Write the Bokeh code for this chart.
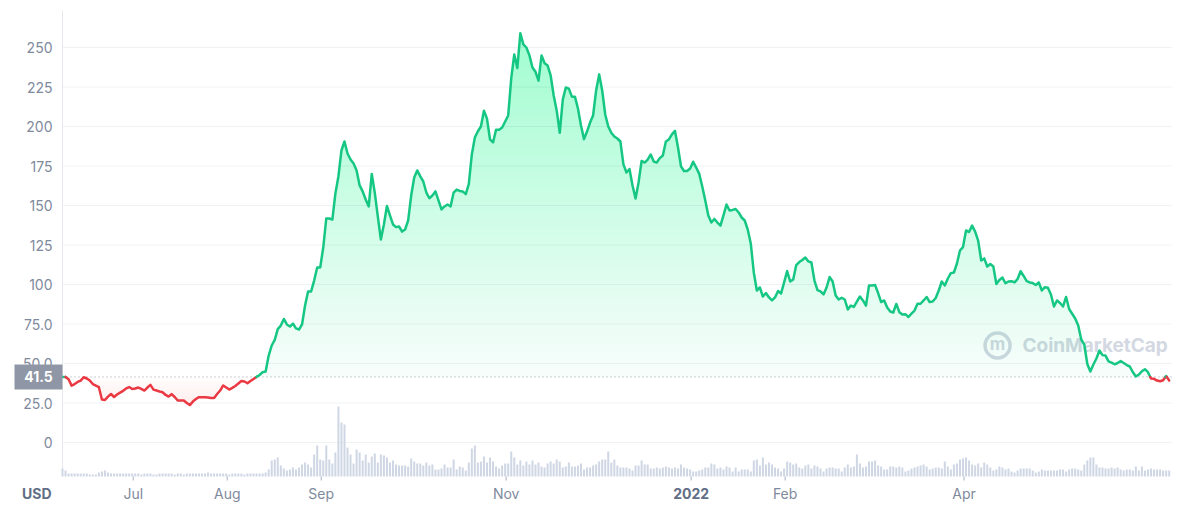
import numpy as np
import pandas as pd
from bokeh.plotting import figure
from bokeh.models import Range1d, ColumnDataSource
from bokeh.core.properties import value
from bokeh.embed import file_html
from bokeh.resources import INLINE

# ---------------- data ----------------
start_date = "2021-06-07 16:00"
baseline = 41.5
currency = "USD"
watermark = "CoinMarketCap"

price = [
    41.5, 41.5, 40.0, 36.0, 37.0, 38.3, 39.2, 41.3, 40.5, 39.2,
    37.0, 36.0, 35.0, 27.2, 26.9, 29.0, 30.7, 28.8, 30.4, 31.6,
    32.7, 34.2, 35.1, 33.9, 34.2, 34.8, 33.9, 32.9, 34.8, 36.5,
    33.5, 32.9, 32.3, 31.8, 30.1, 29.1, 30.6, 28.8, 26.6, 26.6,
    26.6, 25.0, 23.7, 25.9, 27.5, 28.7, 28.7, 28.7, 28.5, 28.2,
    28.2, 30.7, 32.9, 36.1, 34.8, 33.5, 34.6, 35.8, 37.3, 38.9,
    38.6, 37.5, 38.9, 40.2, 41.5, 42.7, 44.5, 44.9, 55.0, 61.4,
    64.9, 71.8, 74.0, 78.2, 74.7, 73.4, 75.3, 72.2, 71.5, 74.7,
    86.7, 95.6, 95.6, 102.5, 110.8, 110.8, 123.4, 141.8, 141.8, 141.1,
    157.6, 168.4, 184.8, 190.5, 182.9, 179.1, 176.6, 172.2, 162.7, 158.9,
    153.8, 149.4, 170.0, 158.0, 143.0, 128.5, 138.0, 149.7, 143.7, 138.0,
    136.3, 136.7, 133.5, 134.8, 140.5, 156.3, 167.7, 172.2, 168.4, 165.2,
    158.2, 154.6, 156.3, 158.9, 153.2, 147.5, 149.4, 150.6, 149.4, 158.2,
    160.1, 159.2, 158.9, 157.2, 163.5, 182.3, 193.0, 197.0, 200.0, 210.0,
    205.0, 191.8, 189.9, 198.0, 198.0, 199.4, 203.2, 207.0, 230.4, 245.6,
    237.0, 259.0, 252.0, 250.0, 245.0, 237.3, 234.6, 229.0, 245.0, 240.0,
    238.6, 232.3, 219.6, 210.0, 196.0, 217.0, 224.7, 224.0, 218.9, 218.9,
    211.4, 200.6, 192.0, 196.8, 202.5, 207.0, 222.8, 233.0, 222.8, 207.6,
    200.0, 196.0, 193.7, 192.4, 190.5, 176.0, 170.9, 173.1, 162.7, 154.4,
    164.6, 178.2, 177.2, 179.1, 182.3, 177.8, 177.2, 180.0, 181.6, 190.5,
    191.8, 195.0, 197.2, 186.7, 174.7, 171.8, 171.8, 173.4, 177.7, 174.0,
    170.0, 162.0, 153.2, 143.7, 139.2, 141.5, 139.2, 137.3, 143.7, 150.6,
    146.8, 147.2, 147.8, 145.6, 142.4, 140.5, 134.8, 126.0, 107.6, 96.2,
    98.1, 92.4, 94.6, 91.8, 89.9, 91.8, 95.9, 94.3, 101.3, 108.5,
    101.9, 103.2, 112.3, 114.2, 115.5, 117.1, 114.6, 113.9, 102.5, 96.5,
    95.6, 93.7, 98.1, 104.7, 101.9, 93.0, 90.5, 91.6, 90.5, 84.2,
    86.7, 85.8, 89.2, 92.4, 89.9, 86.6, 99.4, 99.4, 99.7, 94.6,
    88.9, 89.9, 85.4, 82.9, 82.3, 87.7, 82.5, 81.0, 81.2, 79.4,
    81.6, 83.5, 87.8, 87.8, 89.9, 92.1, 88.9, 89.2, 91.5, 96.2,
    101.9, 99.4, 103.8, 107.2, 107.6, 113.3, 121.5, 123.7, 134.2, 133.2,
    137.3, 133.5, 127.8, 115.2, 116.5, 111.4, 113.0, 111.4, 100.3, 102.8,
    104.4, 100.8, 101.9, 102.1, 101.3, 103.5, 108.4, 105.4, 102.2, 101.3,
    100.9, 99.7, 101.3, 96.2, 98.3, 97.9, 93.7, 86.1, 89.9, 88.3,
    86.1, 92.1, 84.5, 81.5, 78.5, 74.1, 65.2, 62.0, 49.7, 44.9,
    49.4, 53.2, 58.2, 55.3, 55.0, 51.3, 50.6, 49.5, 50.3, 51.5,
    50.3, 49.0, 48.1, 44.6, 41.8, 43.0, 45.1, 46.4, 44.5, 40.5,
    40.3, 39.2, 38.8, 39.4, 42.1, 39.2,
]

volume = [
    8, 6, 3, 3, 3, 3, 3, 3, 3, 2, 2, 2, 4, 5, 6, 4, 3, 3, 3, 3, 3, 3,
    3, 3, 3, 3, 2, 3, 3, 3, 2, 2, 3, 3, 3, 3, 3, 2, 3, 3, 2, 3, 3, 3, 3, 3, 3, 3,
    4, 3, 3, 3, 3, 3, 3, 2, 3, 3, 3, 3, 2, 3, 3, 3, 3, 3, 3, 4,
    7, 16, 17, 19, 11, 8, 6, 7, 9, 7, 9,
    12, 14, 12, 9, 22, 31, 17, 16, 31, 17, 13, 24, 70, 54, 52, 29, 22, 13, 27, 24,
    16, 22, 14, 20, 23, 14, 22, 21, 19, 14, 16, 12, 11,
    11, 11, 10, 18, 15, 13, 13, 11, 14, 11, 12, 7, 7, 8, 12, 9, 9, 17, 7, 10,
    9, 6, 14, 28, 31, 14, 15, 20, 14, 19, 15, 10, 8, 11, 13, 13, 25, 19, 12, 16,
    11, 15, 12, 16, 12, 14, 10, 9, 13, 15, 13, 17, 15, 9, 10, 14, 10, 10, 11, 13,
    7, 9, 9, 11, 12, 15, 17, 17, 25, 14, 17, 11, 9, 9, 9, 8, 6, 11, 11, 16,
    12, 12, 8, 8, 9, 8, 9, 10, 9, 8, 9, 8, 12, 9, 8, 7, 5, 5, 6, 7,
    9, 9, 13, 12, 8, 9, 7, 10, 9, 5, 9, 5, 7, 7, 7, 5, 16, 17, 11, 19,
    12, 14, 12, 9, 8, 5, 8, 15, 14, 12, 13, 9,
    8, 11, 12, 8, 11, 10, 8, 5, 8, 9, 9, 8, 8, 5, 9, 12, 9, 10, 22, 13,
    9, 10, 15, 15, 16, 11, 10, 7, 7, 10, 10, 9, 10, 9, 5, 6, 8, 9, 10, 11,
    12, 10, 7, 8, 9, 9, 8, 15, 10, 7, 12, 13, 17, 18, 19, 16, 12, 11, 13, 9,
    14, 12, 9, 6, 7, 10, 9, 7, 8, 5, 4, 6, 8, 8, 8, 8, 6, 4, 5, 7,
    6, 6, 6, 6, 6, 7, 7, 5, 7, 8, 8, 7, 6, 12, 16, 19, 19, 12, 9, 9,
    8, 8, 9, 8, 9, 7, 6, 7, 7, 6, 10, 6, 10, 6, 7, 8, 7, 7, 7, 6,
    6, 6,
]

tick_dates = ["2021-07-01", "2021-08-01", "2021-09-01", "2021-11-01",
              "2022-01-01", "2022-02-01", "2022-04-01"]
tick_labels = ["Jul", "Aug", "Sep", "Nov", "2022", "Feb", "Apr"]
bold_tick = "2022"

y_ticks = [0, 25, 50, 75, 100, 125, 150, 175, 200, 225, 250]
y_tick_labels = ["0", "25.0", "50.0", "75.0", "100", "125", "150", "175", "200", "225", "250"]

# ---------------- styles / layout ----------------
GREEN = "#16c784"
RED = "#ea3943"
GRID = "#eff2f5"
LABEL = "#808a9d"
DARK = "#616e85"
VOL = "#cfd6e4"
WM = "#d3d8e2"
TAG = "#8f97a6"
FONT = "Inter"
DAY = 86400000
W, H = 1181, 508
PLOT_L, PLOT_R, PLOT_T, PLOT_B = 62, 1171, 10, 476   # plot area in pixels
PX_PER_DAY = 3.032
Y0_PX, PX_PER_UNIT = 442, 1.58                        # pixel row of price 0, px per price unit
TAG_W, TAG_H = 48, 25


def ms(ts):
    return int(pd.Timestamp(ts).value // 10**6)


t0 = ms(start_date)
px = np.array([t0 + i * DAY for i in range(len(price))], dtype=float)
py = np.array(price, dtype=float)
vx = [t0 + i * DAY for i in range(len(volume))]
tick_ms = [ms(d) for d in tick_dates]

x_lo = t0 - PLOT_L / PX_PER_DAY * DAY
x_hi = t0 + (W - PLOT_L) / PX_PER_DAY * DAY
t_end = t0 + (PLOT_R - PLOT_L) / PX_PER_DAY * DAY
y_lo = (Y0_PX - H) / PX_PER_UNIT
y_hi = Y0_PX / PX_PER_UNIT
y_bot = (Y0_PX - PLOT_B) / PX_PER_UNIT
y_top = (Y0_PX - PLOT_T) / PX_PER_UNIT
y_lab = (Y0_PX - 493) / PX_PER_UNIT

p = figure(width=W, height=H, output_backend="svg", toolbar_location=None,
           x_axis_location=None, y_axis_location=None,
           x_range=Range1d(x_lo, x_hi), y_range=Range1d(y_lo, y_hi),
           min_border_left=0, min_border_right=0, min_border_top=0, min_border_bottom=0,
           background_fill_color="white", border_fill_color="white")
p.outline_line_color = None
p.grid.visible = False
p.extra_y_ranges = {"vol": Range1d(-(H - PLOT_B), PLOT_B)}

# horizontal grid lines and left rule
n = len(y_ticks)
p.segment(x0=[t0] * n, x1=[t_end] * n, y0=y_ticks, y1=y_ticks, line_color=GRID, line_width=1)
p.segment(x0=[t0], x1=[t0], y0=[y_bot], y1=[y_top], line_color="#e6e9ee", line_width=1)

# baseline dotted line
p.segment(x0=[t0], x1=[t_end], y0=[baseline], y1=[baseline], line_color="#9aa1ad",
          line_dash="1 3", line_width=1)

# volume bars
p.vbar(x=vx, top=volume, bottom=0, width=0.66 * DAY, y_range_name="vol",
       fill_color=VOL, line_color=None)

# watermark
p.scatter(x=[t0 + 308.4 * DAY], y=[61.4], size=25, marker="circle",
          fill_color=None, line_color=WM, line_width=3.5)
p.text(x=[t0 + 308.4 * DAY], y=[62.2], text=["m"], text_align="center",
       text_baseline="middle", text_font=value(FONT), text_font_size="17px",
       text_font_style="bold", text_color=WM)
p.text(x=[t0 + 316.6 * DAY], y=[61.4], text=[watermark], text_align="left",
       text_baseline="middle", text_font=value(FONT), text_font_size="19px",
       text_font_style="bold", text_color=WM)


def clip_series(xs, ys, level, above=True):
    ox, oy = [], []
    for i in range(len(xs)):
        if i > 0:
            y0, y1 = ys[i - 1], ys[i]
            if (y0 - level) * (y1 - level) < 0:
                t = (level - y0) / (y1 - y0)
                ox.append(xs[i - 1] + t * (xs[i] - xs[i - 1]))
                oy.append(level)
        ox.append(xs[i])
        oy.append(max(ys[i], level) if above else min(ys[i], level))
    return ox, oy


# green gradient (stacked layers)
g_levels = np.linspace(baseline, 262, 45)
for k, L in enumerate(g_levels):
    cx, cy = clip_series(px, py, L, above=True)
    p.varea(x=cx, y1=[L] * len(cx), y2=cy, fill_color=GREEN,
            fill_alpha=(0.035 if k == 0 else 0.007))

# red gradient
r_levels = np.linspace(baseline, 22, 20)
for k, L in enumerate(r_levels):
    cx, cy = clip_series(px, py, L, above=False)
    p.varea(x=cx, y1=cy, y2=[L] * len(cx), fill_color=RED,
            fill_alpha=(0.01 if k == 0 else 0.005))

# price line split at baseline into green / red runs
runs_x, runs_y, runs_c = [], [], []
cur_x, cur_y = [px[0]], [py[0]]
cur_above = py[0] >= baseline
for i in range(1, len(px)):
    above = py[i] >= baseline
    if above != cur_above:
        t = (baseline - py[i - 1]) / (py[i] - py[i - 1])
        xc = px[i - 1] + t * (px[i] - px[i - 1])
        cur_x.append(xc)
        cur_y.append(baseline)
        runs_x.append(cur_x); runs_y.append(cur_y); runs_c.append(GREEN if cur_above else RED)
        cur_x, cur_y = [xc], [baseline]
        cur_above = above
    cur_x.append(px[i])
    cur_y.append(py[i])
runs_x.append(cur_x); runs_y.append(cur_y); runs_c.append(GREEN if cur_above else RED)
p.multi_line(xs=[list(map(float, r)) for r in runs_x], ys=[list(map(float, r)) for r in runs_y],
             line_color=runs_c, line_width=2.5, line_join="round", line_cap="round")

# y tick labels
p.text(x=[t0] * n, y=y_ticks, text=y_tick_labels, x_offset=-10, text_align="right",
       text_baseline="middle", text_font=value(FONT), text_font_size="14px", text_color=LABEL)

# x ticks + labels
tick_src = ColumnDataSource(dict(
    x=tick_ms, label=tick_labels,
    style=["bold" if l == bold_tick else "normal" for l in tick_labels],
    color=[DARK if l == bold_tick else LABEL for l in tick_labels]))
p.segment(x0="x", x1="x", y0=y_bot, y1=y_bot - 4 / PX_PER_UNIT, source=tick_src,
          line_color="#a6b0c3", line_width=1)
p.text(x="x", y=y_lab, text="label", source=tick_src, text_align="center",
       text_baseline="middle", text_font=value(FONT), text_font_size="14px",
       text_font_style="style", text_color="color")

# currency label
p.text(x=[t0], y=[y_lab], text=[currency], x_offset=-11, text_align="right",
       text_baseline="middle", text_font=value(FONT), text_font_size="14px",
       text_font_style="bold", text_color=DARK)

# baseline value tag (box + text)
p.quad(left=[t0 - TAG_W / PX_PER_DAY * DAY], right=[t0],
       bottom=[baseline - TAG_H / 2 / PX_PER_UNIT], top=[baseline + TAG_H / 2 / PX_PER_UNIT],
       fill_color=TAG, line_color=None)
p.text(x=[t0], y=[baseline], text=[f"{baseline}"], x_offset=-TAG_W / 2, text_align="center",
       text_baseline="middle", text_font=value(FONT), text_font_size="14px",
       text_font_style="bold", text_color="white")

open("out.html", "w").write(file_html(p, INLINE))
